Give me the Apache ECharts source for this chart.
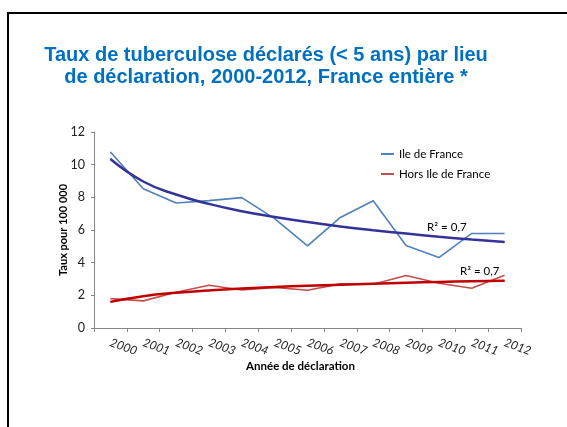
<!DOCTYPE html>
<html>
<head>
<meta charset="utf-8" />
<title>Taux de tuberculose</title>
<style>
  html, body { margin: 0; padding: 0; background: #fff; }
  #chart { width: 567px; height: 427px; }
</style>
<script src="https://cdn.jsdelivr.net/npm/echarts@6/dist/echarts.min.js"></script>
</head>
<body>
<div id="chart"></div>
<script>
// Années (catégories)
var annees = ['2000', '2001', '2002', '2003', '2004', '2005', '2006',
              '2007', '2008', '2009', '2010', '2011', '2012'];

// Taux pour 100 000
var ileDeFrance = [10.78, 8.53, 7.65, 7.8, 7.98, 6.7, 5.03, 6.77, 7.79, 5.05, 4.31, 5.79, 5.79];
var horsIdf = [1.8, 1.66, 2.19, 2.62, 2.33, 2.49, 2.31, 2.7, 2.68, 3.21, 2.74, 2.43, 3.23];

// Courbes de tendance
var tendanceIdf = [10.35, 8.97, 8.17, 7.6, 7.15, 6.8, 6.49, 6.22, 5.99, 5.78, 5.59, 5.42, 5.26];
var tendanceHors = [1.6, 1.95, 2.16, 2.3, 2.42, 2.51, 2.59, 2.65, 2.71, 2.77, 2.82, 2.86, 2.9];

var yTicks = [0, 2, 4, 6, 8, 10, 12];
var r2Label = 'R² = 0,7';

// ajoute l'étiquette R² sur un point de la tendance
function withLabel(values, idx) {
    return values.map(function(v, i) {
        if (i !== idx) return v;
        return {
            value: v,
            label: {
                show: true, position: 'top', distance: 3, offset: [8, 0],
                formatter: r2Label, color: '#000',
                fontFamily: 'Lato', fontSize: 11.5
            }
        };
    });
}

var chart = echarts.init(document.getElementById('chart'));

var option = {
    animation: false,
    backgroundColor: '#fff',
    title: {
        text: 'Taux de tuberculose déclarés (< 5 ans) par lieu\nde déclaration, 2000-2012, France entière *',
        left: 261,
        top: 39,
        textAlign: 'center',
        textStyle: {
            color: '#0070C0',
            fontFamily: 'Liberation Sans',
            fontWeight: 'bold',
            fontSize: 20,
            lineHeight: 22
        }
    },
    graphic: [{
        type: 'polyline',
        shape: { points: [[8, 427], [8, 13], [567, 13]] },
        style: { stroke: '#000', lineWidth: 2, fill: null }
    }],
    legend: {
        data: ['Ile de France', 'Hors Ile de France'],
        orient: 'vertical',
        left: 376,
        top: 143,
        icon: 'rect',
        itemWidth: 13,
        itemHeight: 2,
        itemGap: 8,
        textStyle: { fontFamily: 'Lato', fontSize: 11.5, color: '#000' }
    },
    grid: { left: 94, right: 46, top: 132, bottom: 99 },
    xAxis: {
        type: 'category',
        data: annees,
        boundaryGap: true,
        name: 'Année de déclaration',
        nameLocation: 'middle',
        nameGap: 32,
        nameMoveOverlap: false,
        nameTextStyle: {
            fontFamily: 'Lato', fontSize: 11.5, fontWeight: 'bold', color: '#000',
            padding: [0, 14, 0, 0]
        },
        axisLine: { lineStyle: { color: '#868686' } },
        axisTick: { show: true, length: 4, lineStyle: { color: '#868686' } },
        axisLabel: {
            interval: 0, rotate: -20, margin: 14,
            fontFamily: 'Lato', fontSize: 12, fontStyle: 'italic', color: '#222'
        }
    },
    yAxis: {
        type: 'value',
        min: yTicks[0],
        max: yTicks[yTicks.length - 1],
        interval: 2,
        name: 'Taux pour 100 000',
        nameLocation: 'middle',
        nameGap: 25,
        nameMoveOverlap: false,
        nameRotate: 90,
        nameTextStyle: { fontFamily: 'Lato', fontSize: 11, fontWeight: 'bold', color: '#000' },
        splitLine: { show: false },
        axisLine: { show: true, lineStyle: { color: '#868686' } },
        axisTick: { show: true, length: 3, lineStyle: { color: '#868686' } },
        axisLabel: { margin: 9, fontFamily: 'Lato', fontSize: 12.5, color: '#222' }
    },
    series: [{
        name: 'Ile de France',
        type: 'line',
        data: ileDeFrance,
        symbol: 'none',
        color: '#4F81BD',
        lineStyle: { width: 1.6, color: '#4F81BD' }
    }, {
        name: 'Hors Ile de France',
        type: 'line',
        data: horsIdf,
        symbol: 'none',
        color: '#C0504D',
        lineStyle: { width: 1.6, color: '#C0504D' }
    }, {
        name: 'Tendance IdF',
        type: 'line',
        data: withLabel(tendanceIdf, 10),
        symbol: 'circle',
        symbolSize: 1,
        showSymbol: true,
        smooth: true,
        itemStyle: { color: '#333399' },
        lineStyle: { width: 2.5, color: '#333399' }
    }, {
        name: 'Tendance hors IdF',
        type: 'line',
        data: withLabel(tendanceHors, 11),
        symbol: 'circle',
        symbolSize: 1,
        showSymbol: true,
        smooth: true,
        itemStyle: { color: '#C00000' },
        lineStyle: { width: 2.5, color: '#C00000' }
    }]
};

chart.setOption(option);
</script>
</body>
</html>
